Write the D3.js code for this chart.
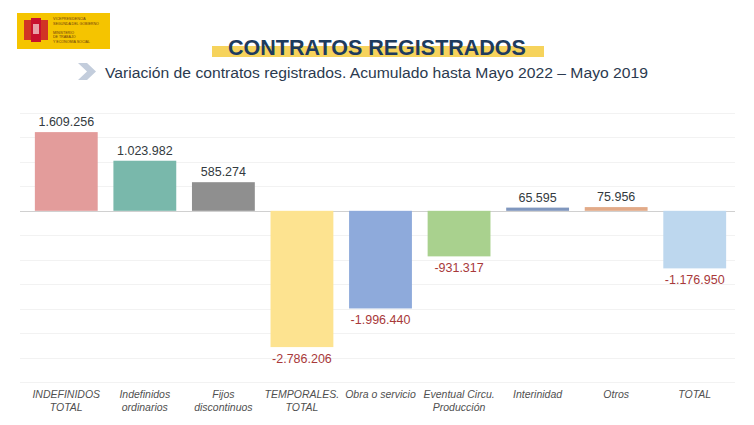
<!DOCTYPE html>
<html><head><meta charset="utf-8">
<script src="https://cdn.jsdelivr.net/npm/d3@7"></script>
<style>body{margin:0;background:#fff}svg{display:block}</style>
</head><body>
<svg id="c" width="754" height="425"></svg>
<script>
const categories = [["INDEFINIDOS","TOTAL"],["Indefinidos","ordinarios"],["Fijos","discontinuos"],["TEMPORALES.","TOTAL"],["Obra o servicio"],["Eventual Circu.","Producción"],["Interinidad"],["Otros"],["TOTAL"]];
const values = [1609256, 1023982, 585274, -2786206, -1996440, -931317, 65595, 75956, -1176950];
const colors = ["#e39c9b","#79b8ab","#8f8f8f","#fde390","#8eaadb","#a9d18e","#8097be","#e2aa88","#bdd7ee"];
const gridTicks = d3.range(-3500000, 2000001, 500000);
const title = "CONTRATOS REGISTRADOS";
const subtitle = "Variación de contratos registrados. Acumulado hasta Mayo 2022 – Mayo 2019";

const svg = d3.select("#c");
const fmt = v => d3.format(",")(v).replace(/,/g, ".").replace("\u2212", "-");

// logo
const logo = svg.append("g");
logo.append("rect").attr("x",17).attr("y",13).attr("width",93).attr("height",36).attr("fill","#f5c400");
logo.append("rect").attr("x",24).attr("y",20).attr("width",8).attr("height",20).attr("fill","#c8102e").attr("opacity",0.8);
logo.append("rect").attr("x",31).attr("y",18).attr("width",10).attr("height",24).attr("fill","#c8102e");
logo.append("rect").attr("x",40).attr("y",20).attr("width",8).attr("height",20).attr("fill","#c8102e").attr("opacity",0.8);
logo.append("rect").attr("x",33).attr("y",24).attr("width",6).attr("height",10).attr("fill","#e8a0a8");
const lt = ["VICEPRESIDENCIA","SEGUNDA DEL GOBIERNO","","MINISTERIO","DE TRABAJO","Y ECONOMÍA SOCIAL"];
lt.forEach((t,i)=>logo.append("text").attr("x",53).attr("y",20+i*4.6).attr("font-size",3.6)
  .attr("font-family","Liberation Sans, Arial").attr("fill","#6b3a10").text(t));

// title
svg.append("rect").attr("x",212).attr("y",46).attr("width",332).attr("height",11).attr("fill","#f6d35c");
svg.append("text").attr("x",377).attr("y",55).attr("text-anchor","middle")
  .attr("font-family","Liberation Sans, Arial").attr("font-weight","bold").attr("font-size",21.5)
  .attr("fill","#1d3b5e").text(title);

// subtitle
svg.append("path").attr("d","M78,63 L87,63 L96,71.5 L87,80 L78,80 L87,71.5 Z").attr("fill","#c3cddc");
svg.append("text").attr("x",105).attr("y",78).attr("font-family","Liberation Sans, Arial")
  .attr("font-size",15.5).attr("fill","#2b3a4f").attr("textLength",543).attr("lengthAdjust","spacingAndGlyphs").text(subtitle);

// scales
const x = d3.scaleBand().domain(d3.range(values.length)).range([27, 734]).paddingInner(0.2).paddingOuter(0.1);
const y = d3.scaleLinear().domain([-3500000, 2000000]).range([382, 113]);

svg.append("g").selectAll("line").data(gridTicks).join("line")
  .attr("x1",20).attr("x2",735).attr("y1",d=>Math.round(y(d))+0.5).attr("y2",d=>Math.round(y(d))+0.5)
  .attr("stroke",d=>d===0?"#d0d0d0":"#f2f2f2").attr("stroke-width",1);

svg.append("g").selectAll("rect").data(values).join("rect")
  .attr("x",(d,i)=>x(i)).attr("width",x.bandwidth())
  .attr("y",d=>y(Math.max(0,d))).attr("height",d=>Math.abs(y(d)-y(0)))
  .attr("fill",(d,i)=>colors[i]);

svg.append("g").selectAll("text").data(values).join("text")
  .attr("x",(d,i)=>x(i)+x.bandwidth()/2)
  .attr("y",d=>d>=0? y(d)-6 : y(d)+16)
  .attr("text-anchor","middle").attr("font-family","Liberation Sans, Arial").attr("font-size",12.5)
  .attr("fill",d=>d>=0?"#333a40":"#a8393a").text(d=>fmt(d));

const lab = svg.append("g").selectAll("text").data(categories).join("text")
  .attr("text-anchor","middle").attr("font-family","Liberation Sans, Arial").attr("font-style","italic")
  .attr("font-size",10.5).attr("fill","#505050");
lab.each(function(d,i){
  const t = d3.select(this);
  d.forEach((s,j)=>t.append("tspan").attr("x",x(i)+x.bandwidth()/2).attr("y",398+j*13).text(s));
});
</script>
</body></html>
